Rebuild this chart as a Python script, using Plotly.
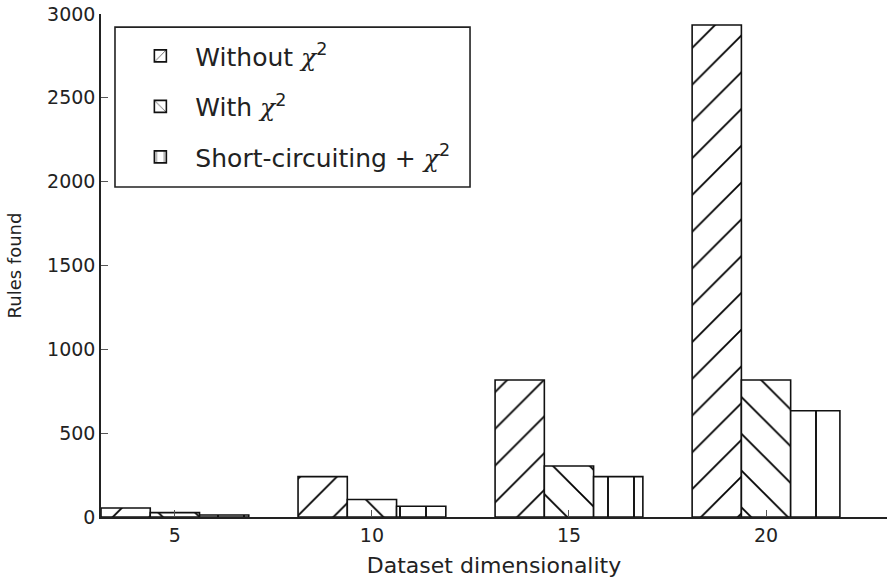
import plotly.graph_objects as go

dims = [5, 10, 15, 20]
without_chi2 = [54, 241, 817, 2934]
with_chi2 = [26, 104, 304, 817]
short_chi2 = [12, 64, 241, 634]

chi = '<span style="font-family:\'DejaVu Serif\';font-style:italic">χ</span><sup>2</sup>'
names = ["Without " + chi, "With " + chi, "Short-circuiting + " + chi]
series = [without_chi2, with_chi2, short_chi2]
shapes = ["/", "\\", "|"]

fig = go.Figure()
for i, (nm, vals, sh) in enumerate(zip(names, series, shapes)):
    fig.add_trace(go.Bar(
        x=dims, y=vals, name=nm, legendgroup=f"g{i}",
        marker=dict(color="white",
                    line=dict(color="#111", width=1.6),
                    pattern=dict(shape=sh, size=26, solidity=0.07,
                                 fgcolor="black", fgopacity=1, bgcolor="white")),
    ))

fig.update_layout(
    width=887, height=581,
    margin=dict(l=101, r=0, t=14, b=64),
    paper_bgcolor="white", plot_bgcolor="white",
    barmode="group", bargap=0.25, bargroupgap=0,
    font=dict(family="DejaVu Sans", size=19, color="#222"),
    legend=dict(x=0.031, y=0.962, xanchor="left", yanchor="top",
                borderwidth=0, bgcolor="rgba(0,0,0,0)",
                itemwidth=60,
                font=dict(size=25, color="#222"), tracegroupgap=15),
    shapes=[dict(type="rect", xref="paper", yref="paper",
                 x0=0.0178, x1=0.4695, y0=0.656, y1=0.974,
                 line=dict(color="#222", width=1.6), fillcolor="white", layer="below")],
    xaxis=dict(range=[3.125, 23.07], tickvals=dims, ticks="inside", ticklen=7,
               tickcolor="#555", showline=True, linecolor="#222", linewidth=1.5,
               showgrid=False, zeroline=False, automargin=False,
               title=dict(text="Dataset dimensionality", font=dict(size=22), standoff=13)),
    yaxis=dict(range=[0, 3000], tickvals=[0, 500, 1000, 1500, 2000, 2500, 3000],
               ticks="inside", ticklen=7, tickcolor="#555",
               showline=True, linecolor="#222", linewidth=1.5,
               showgrid=False, zeroline=False, automargin=False,
               title=dict(text="Rules found", font=dict(size=18), standoff=21)),
)

fig.write_html("out.html", config={"displayModeBar": False},
               post_script="document.body.style.margin='0';")
